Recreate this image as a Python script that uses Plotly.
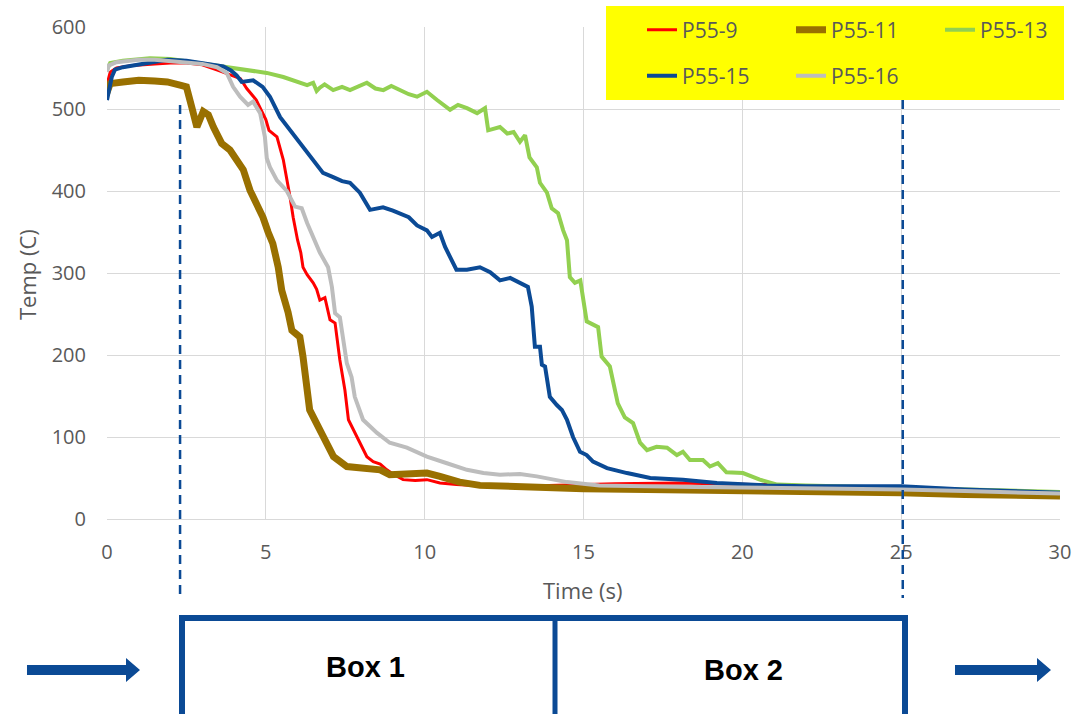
import plotly.graph_objects as go

# ---------------- data ----------------
t_p55_9 = [0, 0.1, 0.3, 0.8, 1.5, 2.0, 2.5, 3.0, 3.5, 4.0, 4.2, 4.4, 4.7, 5.0, 5.1, 5.35, 5.55, 5.76, 5.86,
           6.0, 6.1, 6.17, 6.3, 6.49, 6.6, 6.7, 6.86, 7.02, 7.18, 7.33, 7.49, 7.6, 7.87, 8.18, 8.38, 8.6,
           8.81, 9.0, 9.32, 9.7, 10.07, 10.48, 11, 12, 13, 14, 15, 16, 18, 20, 21.8, 23, 25, 27, 30]
temp_p55_9 = [530, 545, 550, 553, 555, 556, 556, 554, 547, 540, 537, 525, 511, 487, 474, 466, 438, 393, 368,
              340, 325, 307, 298, 288, 280, 267, 270, 243, 239, 194, 157, 121, 100, 76, 70, 67,
              60, 55, 48, 47, 48, 44, 42, 40, 40, 41, 42, 43, 44, 42, 41, 38, 36, 33, 30]

t_p55_11 = [0, 0.1, 0.5, 1.0, 1.5, 1.9, 2.3, 2.5, 2.67, 2.83, 3.03, 3.19, 3.35, 3.61, 3.87, 4.08, 4.29, 4.5,
            4.72, 4.91, 5.07, 5.22, 5.39, 5.5, 5.7, 5.82, 6.07, 6.17, 6.38, 6.7, 6.92, 7.13, 7.55, 8.18,
            8.6, 8.9, 9.5, 10.07, 10.48, 11.1, 11.74, 12.4, 14, 15, 17, 20, 22, 25, 27, 30]
temp_p55_11 = [520, 531, 533, 535, 534, 533, 529, 527, 502, 478, 497, 493, 478, 458, 450, 438, 426, 401,
               385, 368, 350, 336, 307, 279, 252, 230, 222, 198, 133, 109, 93, 76, 64, 62,
               60, 54, 55, 56, 52, 45, 41, 40, 38, 37, 36, 35, 34, 32, 30, 28]

t_p55_13 = [0, 0.1, 0.5, 1.35, 2.0, 2.93, 3.97, 4.5, 5.03, 5.55, 5.98, 6.3, 6.49, 6.6, 6.7, 6.85, 7.12, 7.4,
            7.65, 7.9, 8.18, 8.45, 8.7, 8.95, 9.22, 9.5, 9.76, 10.07, 10.39, 10.8, 11.05, 11.33, 11.65,
            11.9, 12.0, 12.37, 12.6, 12.8, 13.0, 13.16, 13.3, 13.53, 13.63, 13.85, 14.0, 14.2, 14.36,
            14.48, 14.57, 14.73, 14.9, 15.1, 15.46, 15.57, 15.83, 16.08, 16.3, 16.56, 16.78, 17.0, 17.3,
            17.63, 17.94, 18.13, 18.35, 18.76, 18.98, 19.23, 19.5, 20.02, 20.55, 21.1, 22, 23, 25, 27, 30]
temp_p55_13 = [548, 556, 559, 562, 561, 556, 550, 548, 544, 539, 533, 529, 532, 522, 526, 530, 523, 527,
               523, 527, 532, 525, 523, 528, 523, 518, 515, 521, 511, 499, 505, 501, 495,
               501, 474, 478, 470, 472, 460, 468, 441, 429, 410, 398, 379, 373, 352,
               340, 295, 288, 291, 241, 234, 198, 186, 141, 124, 117, 93, 84, 88,
               87, 78, 82, 72, 72, 64, 68, 57, 56, 48, 42, 41, 40, 39, 37, 33]

t_p55_15 = [0, 0.15, 0.25, 0.5, 0.82, 1.3, 1.9, 2.5, 2.93, 3.3, 3.66, 3.9, 4.08, 4.24, 4.6, 4.9, 5.13, 5.45,
            5.76, 6.07, 6.3, 6.49, 6.8, 7.12, 7.4, 7.65, 7.96, 8.28, 8.69, 9.0, 9.22, 9.5, 9.76, 10.07,
            10.23, 10.48, 10.64, 10.8, 11.0, 11.33, 11.74, 12.06, 12.37, 12.69, 13.0, 13.25, 13.37,
            13.47, 13.63, 13.69, 13.79, 13.94, 14.16, 14.32, 14.48, 14.67, 14.89, 15.1, 15.3, 15.74,
            16.37, 17.1, 18.13, 19.2, 20.77, 22, 25, 27, 30]
temp_p55_15 = [511, 539, 548, 551, 553, 556, 560, 559, 556, 554, 552, 547, 541, 533, 535, 527, 515, 490,
               474, 458, 448, 438, 422, 417, 412, 410, 398, 377, 380, 376, 373, 368, 358, 352,
               344, 349, 332, 320, 304, 304, 307, 301, 291, 294, 288, 283, 259,
               210, 210, 188, 186, 149, 139, 133, 121, 100, 82, 78, 70, 62,
               56, 50, 48, 44, 41, 40, 40, 36, 32]

t_p55_16 = [0, 0.05, 0.3, 1.0, 1.5, 2.4, 3.0, 3.46, 3.77, 3.97, 4.19, 4.44, 4.6, 4.82, 4.97, 5.03, 5.13,
            5.35, 5.66, 5.92, 6.13, 6.3, 6.49, 6.7, 6.96, 7.08, 7.18, 7.33, 7.55, 7.7, 7.8, 8.06, 8.5,
            8.9, 9.44, 10.07, 10.7, 11.33, 11.85, 12.37, 13.0, 13.53, 14.48, 15.5, 18.5, 21.8, 25, 27, 30]
temp_p55_16 = [545, 553, 557, 560, 560, 557, 555, 551, 544, 527, 515, 505, 509, 495, 466, 440, 429,
               413, 400, 381, 379, 361, 344, 325, 307, 283, 251, 246, 190, 173, 149, 121, 105,
               93, 87, 76, 68, 60, 56, 54, 55, 52, 45, 41, 39, 38, 36, 34, 31]

series_names = ["P55-9", "P55-11", "P55-13", "P55-15", "P55-16"]
x_ticks = [0, 5, 10, 15, 20, 25, 30]
y_ticks = [0, 100, 200, 300, 400, 500, 600]
box_labels = ["Box 1", "Box 2"]

# ---------------- styling ----------------
W, H = 1075, 714
L, R, T, B = 107, 15, 27, 195
PW, PH = W - L - R, H - T - B
TICK_COLOR = "#595959"
DARK_BLUE = "#0B4A95"
FONT = "Open Sans, sans-serif"


def px(xp):
    return (xp - L) / PW


def py(yp):
    return (H - B - yp) / PH


colors = ["#FF0000", "#997000", "#92D050", "#0B4A95", "#BDBDBD"]
widths = [3, 7, 4, 4, 4]
data = [(t_p55_9, temp_p55_9), (t_p55_11, temp_p55_11), (t_p55_13, temp_p55_13),
        (t_p55_15, temp_p55_15), (t_p55_16, temp_p55_16)]

fig = go.Figure()
for i, (name, (tx, ty)) in enumerate(zip(series_names, data)):
    fig.add_trace(go.Scatter(
        x=tx, y=ty, mode="lines", name=name,
        line=dict(color=colors[i], width=widths[i]),
        legend="legend" if i < 3 else "legend2",
        hoverinfo="skip",
    ))

shapes = []
# dashed vertical markers
shapes.append(dict(type="line", xref="x", yref="paper", x0=2.3, x1=2.3, y0=py(105), y1=py(598),
                   line=dict(color=DARK_BLUE, width=2.5, dash="9px,6px"), layer="above"))
shapes.append(dict(type="line", xref="x", yref="paper", x0=25.05, x1=25.05, y0=py(40), y1=py(598),
                   line=dict(color=DARK_BLUE, width=2.5, dash="9px,6px"), layer="above"))
# legend yellow background
shapes.append(dict(type="rect", xref="paper", yref="paper", x0=px(606), x1=px(1064), y0=py(6), y1=py(100),
                   fillcolor="#FFFF00", line=dict(width=0), layer="above"))
# boxes
shapes.append(dict(type="rect", xref="paper", yref="paper", x0=px(182), x1=px(905), y0=py(618), y1=py(722),
                   line=dict(color=DARK_BLUE, width=6), fillcolor="rgba(0,0,0,0)", layer="above"))
shapes.append(dict(type="line", xref="paper", yref="paper", x0=px(555), x1=px(555), y0=py(618), y1=py(722),
                   line=dict(color=DARK_BLUE, width=5), layer="above"))


def arrow_path(x0, x1, yc):
    pts = [(x0, yc - 5), (x1 - 14, yc - 5), (x1 - 14, yc - 12), (x1, yc), (x1 - 14, yc + 12),
           (x1 - 14, yc + 5), (x0, yc + 5)]
    return "M " + " L ".join(f"{px(a):.5f},{py(b):.5f}" for a, b in pts) + " Z"


for (a, b) in [(27, 140), (955, 1051)]:
    shapes.append(dict(type="path", xref="paper", yref="paper", path=arrow_path(a, b, 670),
                       fillcolor=DARK_BLUE, line=dict(width=0), layer="above"))

annotations = [
    dict(text="Time (s)", xref="paper", yref="paper", x=px(583), y=py(590), showarrow=False,
         font=dict(size=22, color=TICK_COLOR, family=FONT), xanchor="center", yanchor="middle"),
    dict(text="Temp (C)", xref="paper", yref="paper", x=px(27), y=py(275), showarrow=False, textangle=-90,
         font=dict(size=22, color=TICK_COLOR, family=FONT), xanchor="center", yanchor="middle"),
    dict(text="<b>" + box_labels[0] + "</b>", xref="paper", yref="paper", x=px(365), y=py(667), showarrow=False,
         font=dict(size=29, color="#000000", family="Liberation Sans, Arial, sans-serif"), xanchor="center", yanchor="middle"),
    dict(text="<b>" + box_labels[1] + "</b>", xref="paper", yref="paper", x=px(743), y=py(670), showarrow=False,
         font=dict(size=29, color="#000000", family="Liberation Sans, Arial, sans-serif"), xanchor="center", yanchor="middle"),
]

legend_common = dict(orientation="h", entrywidth=104, entrywidthmode="pixels", bgcolor="rgba(0,0,0,0)",
                     font=dict(size=21, color=TICK_COLOR, family=FONT),
                     xanchor="left", yanchor="middle", itemclick=False, itemdoubleclick=False)

fig.update_layout(
    width=W, height=H,
    margin=dict(l=L, r=R, t=T, b=B, autoexpand=False),
    plot_bgcolor="white", paper_bgcolor="white",
    showlegend=True,
    legend=dict(x=px(642), y=py(30), **legend_common),
    legend2=dict(x=px(642), y=py(76), **legend_common),
    xaxis=dict(range=[0, 30], tickvals=x_ticks, ticktext=[str(v) for v in x_ticks], showgrid=True,
               gridcolor="#D9D9D9", gridwidth=1, zeroline=False, showline=True, linecolor="#D9D9D9",
               linewidth=1, ticks="", ticklabelstandoff=15,
               tickfont=dict(size=20, color=TICK_COLOR, family=FONT)),
    yaxis=dict(range=[0, 600], tickvals=y_ticks, ticktext=[str(v) for v in y_ticks], showgrid=True,
               gridcolor="#D9D9D9", gridwidth=1, zeroline=False, showline=False, ticks="",
               ticklabelstandoff=20,
               tickfont=dict(size=20, color=TICK_COLOR, family=FONT)),
    shapes=shapes,
    annotations=annotations,
)

fig.write_html("out.html")
